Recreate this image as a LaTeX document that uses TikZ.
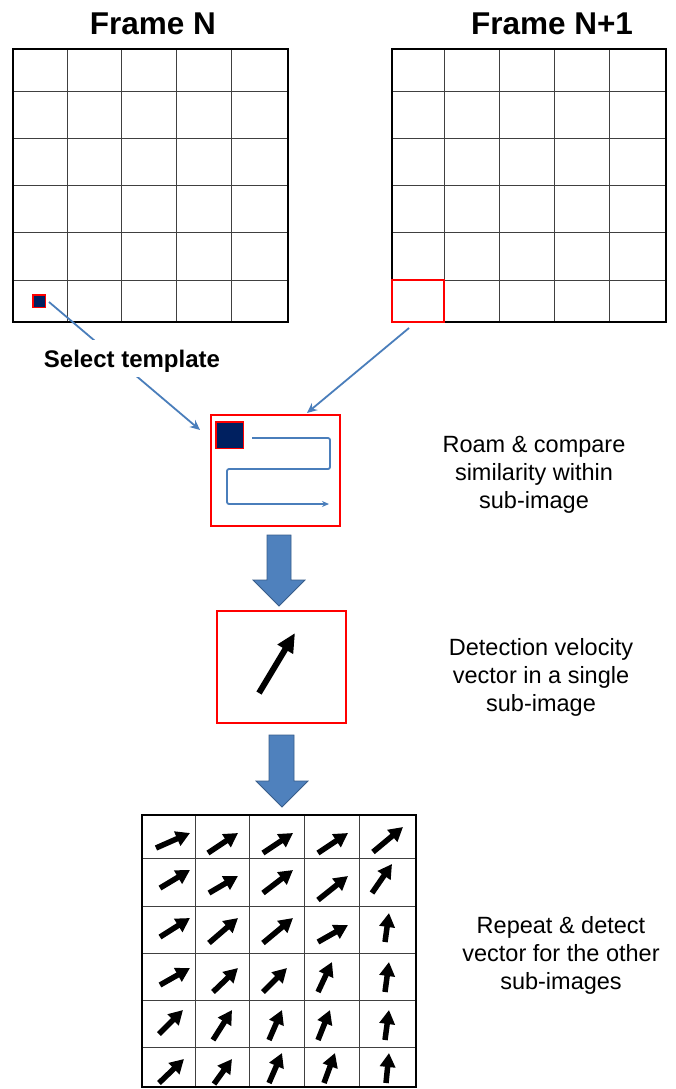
\documentclass[tikz,border=0pt]{standalone}
\usepackage{fontspec}
\setmainfont{Liberation Sans}
\usetikzlibrary{arrows.meta}
\definecolor{linkblue}{HTML}{4A7EBB}
\definecolor{blockblue}{HTML}{4F81BD}
\definecolor{blockedge}{HTML}{385D8A}
\definecolor{navy}{HTML}{002060}
\begin{document}
\begin{tikzpicture}[x=1pt,y=-1pt,
  gridline/.style={draw=black!75, line width=0.9pt},
  gridborder/.style={draw=black, line width=2pt},
  redbox/.style={draw=red, line width=2.5pt, inner sep=0pt},
  tmpl/.style={fill=navy, draw=red, line width=1.5pt, inner sep=0pt},
  link/.style={draw=linkblue, line width=1.8pt, -{Stealth[length=10pt,width=9pt]}},
  blockarrow/.style={fill=blockblue, draw=blockedge, line width=0.8pt},
  vec/.style={line width=5.5pt, -{Triangle[length=14pt,width=15pt]}},
  title/.style={font=\bfseries\fontsize{31.5}{36}\selectfont},
  note/.style={font=\fontsize{23.5}{28}\selectfont, align=center}]
\useasboundingbox (0,0) rectangle (675,1089);
\fill[white] (0,0) rectangle (675,1089);

% titles
\node[title, anchor=base] (titleN) at (153,35) {Frame N};
\node[title, anchor=base] (titleN1) at (552,35) {Frame N+1};

% frame N grid
\foreach \x in {67,121,176,231} \draw[gridline] (\x,49) -- (\x,322);
\foreach \y in {91,138,185,232,280} \draw[gridline] (13,\y) -- (288,\y);
\draw[gridborder] (13,49) rectangle (288,322);

% frame N+1 grid
\foreach \x in {444,499,554,609} \draw[gridline] (\x,49) -- (\x,322);
\foreach \y in {91,138,185,232,280} \draw[gridline] (392,\y) -- (666,\y);
\draw[gridborder] (392,49) rectangle (666,322);

% template and search window
\node[tmpl, minimum size=12.5pt] (tmplN) at (39,301) {};
\node[redbox, minimum width=52pt, minimum height=42pt] (searchN1) at (418,301) {};

% matching window
\node[redbox, minimum width=129pt, minimum height=111pt] (roam) at (275.5,470.5) {};
\node[tmpl, minimum width=27.5pt, minimum height=26.5pt] (tmplRoam) at (229.5,435) {};
\draw[linkblue, line width=1.8pt, rounded corners=2pt, -{Stealth[length=7pt,width=6pt]}]
  (252,438) -- (330,438) -- (330,469) -- (227,469) -- (227,504) -- (329,504);

% connectors into the matching window
\coordinate (selFrom) at (49,302);
\coordinate (selTo) at (200,430);
\draw[link] (selFrom) -- (selTo);
\node[font=\bfseries\fontsize{24}{28}\selectfont, fill=white, text height=27pt,
  text depth=10pt, inner ysep=0pt, inner xsep=3pt, anchor=base] (selLabel) at (132,367) {Select template};
\coordinate (srchFrom) at (409,328);
\coordinate (srchTo) at (307,413);
\draw[link] (srchFrom) -- (srchTo);

% block arrows
\draw[blockarrow] (267,535) -- (291,535) -- (291,580) -- (305,580) -- (279,606)
  -- (253,580) -- (267,580) -- cycle;
\draw[blockarrow] (269,735) -- (294,735) -- (294,781) -- (308,781) -- (282,807)
  -- (256,781) -- (269,781) -- cycle;

% single velocity vector
\node[redbox, minimum width=129pt, minimum height=112pt] (velbox) at (281.5,667) {};
\draw[line width=6pt, -{Triangle[length=19pt,width=17pt]}] (259,693) -- (295,633);

% vector field grid
\foreach \x in {195,249,304,359} \draw[gridline] (\x,815) -- (\x,1087);
\foreach \y in {858,906,953,1000,1047} \draw[gridline] (142,\y) -- (416,\y);
\draw[gridborder] (142,815) rectangle (416,1087);
\foreach \a/\b/\c/\d in {
  156/848/190/833, 208/853/238/833, 263/853/293/833, 318/853/348/833, 373/852/403/827,
  160/888/190/870, 209/893/238/876, 263/893/293/870, 318/900/348/876, 372/893/392/864,
  160/937/190/918, 209/943/238/918, 263/943/293/918, 318/942/348/925, 385/942/389/913,
  160/985/190/968, 213/992/238/968, 263/992/287/968, 318/992/332/962, 385/992/389/962,
  159/1034/183/1010, 213/1040/232/1010, 269/1040/282/1010, 318/1040/330/1010, 385/1040/389/1010,
  159/1083/184/1059, 214/1084/232/1059, 269/1083/282/1053, 324/1083/335/1053, 386/1083/389/1053}
  \draw[vec] (\a,\b) -- (\c,\d);

% notes (base anchor sits on the last line)
\node[note, anchor=base] (noteRoam) at (534,508) {Roam \& compare\\similarity within\\sub-image};
\node[note, anchor=base] (noteVel) at (541,711) {Detection velocity\\vector in a single\\sub-image};
\node[note, anchor=base] (noteRep) at (561,989) {Repeat \& detect\\vector for the other\\sub-images};
\end{tikzpicture}
\end{document}
